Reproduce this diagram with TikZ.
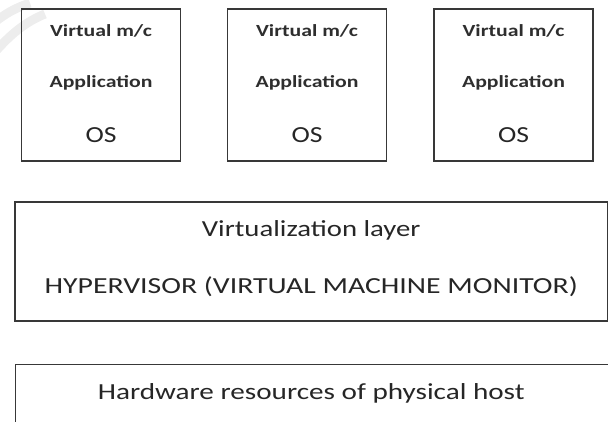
\documentclass[tikz,border=0pt]{standalone}
\usepackage{fontspec}
\setmainfont{Carlito}
\begin{document}
\begin{tikzpicture}[x=1pt,y=-1pt,
  boxline/.style={draw=black!78,line width=1.4pt},
  vmbox/.style={boxline,minimum width=159pt,minimum height=152pt,inner sep=0pt},
  smalltxt/.style={anchor=base,font=\fontsize{17}{17}\selectfont\bfseries,text=black!82,xscale=1.28,inner sep=0pt},
  bigtxt/.style={anchor=base,font=\fontsize{23}{23}\selectfont,text=black!85,xscale=1.25,inner sep=0pt},
  ostxt/.style={anchor=base,font=\fontsize{23}{23}\selectfont,text=black!85,xscale=1.2,inner sep=0pt},
  wm/.style={draw=black!7,line width=9pt}]
\useasboundingbox (0,0) rectangle (608,421);
\clip (0,0) rectangle (608,421);
% faint watermark remnant
\draw[wm] (-5,52) .. controls (10,35) and (25,22) .. (45,14);
\draw[wm] (-5,22) .. controls (5,14) and (15,8) .. (30,3);
% virtual machines
\foreach \n/\cx in {1/101,2/307,3/513.5}{
  \node[vmbox] (vm\n) at (\cx,85) {};
  \node[smalltxt] (vt\n) at (\cx,36) {Virtual m/c};
  \node[smalltxt] (ap\n) at (\cx,87) {Application};
  \node[ostxt] (os\n) at (\cx,142) {OS};
}
% virtualization layer
\node[boxline,minimum width=592.5pt,minimum height=119pt,inner sep=0pt] (virt) at (311.25,261.5) {};
\node[bigtxt] (vlt) at (311.25,236) {Virtualization layer};
\node[bigtxt,xscale=1.035] (hyp) at (311.25,293) {HYPERVISOR (VIRTUAL MACHINE MONITOR)};
% hardware
\node[boxline,minimum width=592.5pt,minimum height=100pt,inner sep=0pt,anchor=north west] (hw) at (15,364) {};
\node[bigtxt,xscale=1.015] (hwt) at (311.25,399) {Hardware resources of physical host};
\end{tikzpicture}
\end{document}
